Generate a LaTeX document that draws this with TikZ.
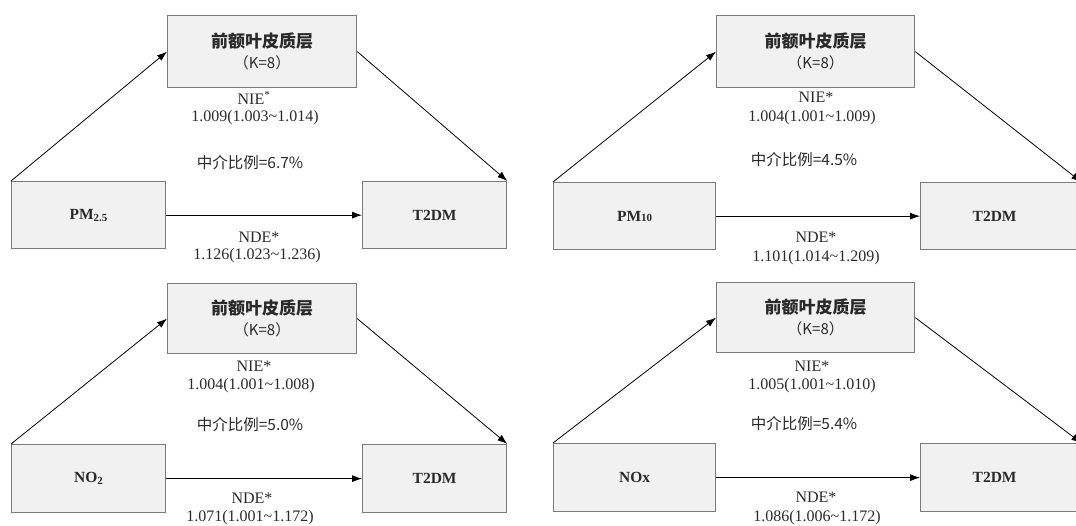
\documentclass[tikz,border=0pt]{standalone}
\usepackage{fontspec}
\setmainfont{Liberation Serif}
\newfontfamily\cjk{Noto Sans CJK SC}
\usetikzlibrary{arrows.meta}
\definecolor{boxgray}{HTML}{7A7A7A}
\definecolor{boxfill}{HTML}{F1F1F1}
\definecolor{txt}{HTML}{2A2A2A}
\begin{document}
\begin{tikzpicture}[x=1pt,y=-1pt,
  box/.style={draw=boxgray, fill=boxfill, line width=1.3pt, inner sep=0pt, anchor=north west, text=txt},
  medbox/.style={box, align=center, font=\fontsize{17}{21}\selectfont},
  endbox/.style={box, font=\fontsize{15.5}{18}\selectfont\bfseries},
  arr/.style={-{Latex[length=10pt,width=7pt]}, line width=0.8pt, black},
  lbl/.style={text=txt, inner sep=0pt, font=\fontsize{16}{18}\selectfont},
  clbl/.style={text=txt, inner sep=0pt, font=\cjk\fontsize{15.5}{18}\selectfont}]
\useasboundingbox (0,0) rectangle (1076,526);
\clip (0,0) rectangle (1076,526);
\fill[white] (0,0) rectangle (1076,526);
% ---------- panel 1 ----------
\node[medbox, minimum width=189pt, minimum height=72pt] (m1) at (167,15)
  {{\cjk\bfseries 前额叶皮质层}\\{\cjk\fontsize{15}{16}\selectfont （K=8）}};
\node[endbox, minimum width=154pt, minimum height=67pt] (s1) at (11,181) {PM\textsubscript{2.5}};
\node[endbox, minimum width=144pt, minimum height=67pt] (t1) at (362,181) {T2DM};
\draw[arr] (s1.north west) -- (m1.west);
\draw[arr] (m1.east) -- (t1.north east);
\draw[arr] (s1.east) -- (t1.west);
\node[lbl] (a1) at (254,98) {NIE\textsuperscript{*}};
\node[lbl] (b1) at (255,118) {1.009(1.003\textasciitilde1.014)};
\node[clbl] (c1) at (250,163) {中介比例=6.7\%};
\node[lbl] (d1) at (259,237) {NDE*};
\node[lbl] (e1) at (257,256) {1.126(1.023\textasciitilde1.236)};
% ---------- panel 2 ----------
\node[medbox, minimum width=198pt, minimum height=72pt] (m2) at (716,15)
  {{\cjk\bfseries 前额叶皮质层}\\{\cjk\fontsize{15}{16}\selectfont （K=8）}};
\node[endbox, minimum width=162pt, minimum height=67pt] (s2) at (553,182) {PM{\fontsize{11}{11}\selectfont 10}};
\node[endbox, minimum width=160pt, minimum height=67pt] (t2) at (920,182) {\hspace*{-4pt}T2DM\hspace*{8pt}};
\draw[arr] (s2.north west) -- (m2.west);
\draw[arr] (m2.east) -- (t2.north east);
\draw[arr] (s2.east) -- (t2.west);
\node[lbl] (a2) at (816,97) {NIE*};
\node[lbl] (b2) at (812,118) {1.004(1.001\textasciitilde1.009)};
\node[clbl] (c2) at (804,160) {中介比例=4.5\%};
\node[lbl] (d2) at (816,237) {NDE*};
\node[lbl] (e2) at (816,258) {1.101(1.014\textasciitilde1.209)};
% ---------- panel 3 ----------
\node[medbox, minimum width=189pt, minimum height=70pt] (m3) at (167,283)
  {{\cjk\bfseries 前额叶皮质层}\\{\cjk\fontsize{15}{16}\selectfont （K=8）}};
\node[endbox, minimum width=154pt, minimum height=68pt] (s3) at (11,444) {NO\textsubscript{2}};
\node[endbox, minimum width=144pt, minimum height=68pt] (t3) at (362,444) {T2DM};
\draw[arr] (s3.north west) -- (m3.west);
\draw[arr] (m3.east) -- (t3.north east);
\draw[arr] (s3.east) -- (t3.west);
\node[lbl] (a3) at (254,366) {NIE*};
\node[lbl] (b3) at (251,386) {1.004(1.001\textasciitilde1.008)};
\node[clbl] (c3) at (250,425) {中介比例=5.0\%};
\node[lbl] (d3) at (252,498) {NDE*};
\node[lbl] (e3) at (250,518) {1.071(1.001\textasciitilde1.172)};
% ---------- panel 4 ----------
\node[medbox, minimum width=198pt, minimum height=70pt] (m4) at (716,282)
  {{\cjk\bfseries 前额叶皮质层}\\{\cjk\fontsize{15}{16}\selectfont （K=8）}};
\node[endbox, minimum width=162pt, minimum height=68pt] (s4) at (553,443) {NOx};
\node[endbox, minimum width=160pt, minimum height=68pt] (t4) at (920,443) {\hspace*{-4pt}T2DM\hspace*{8pt}};
\draw[arr] (s4.north west) -- (m4.west);
\draw[arr] (m4.east) -- (t4.north east);
\draw[arr] (s4.east) -- (t4.west);
\node[lbl] (a4) at (812,366) {NIE*};
\node[lbl] (b4) at (812,386) {1.005(1.001\textasciitilde1.010)};
\node[clbl] (c4) at (804,424) {中介比例=5.4\%};
\node[lbl] (d4) at (816,497) {NDE*};
\node[lbl] (e4) at (817,518) {1.086(1.006\textasciitilde1.172)};
\end{tikzpicture}
\end{document}
